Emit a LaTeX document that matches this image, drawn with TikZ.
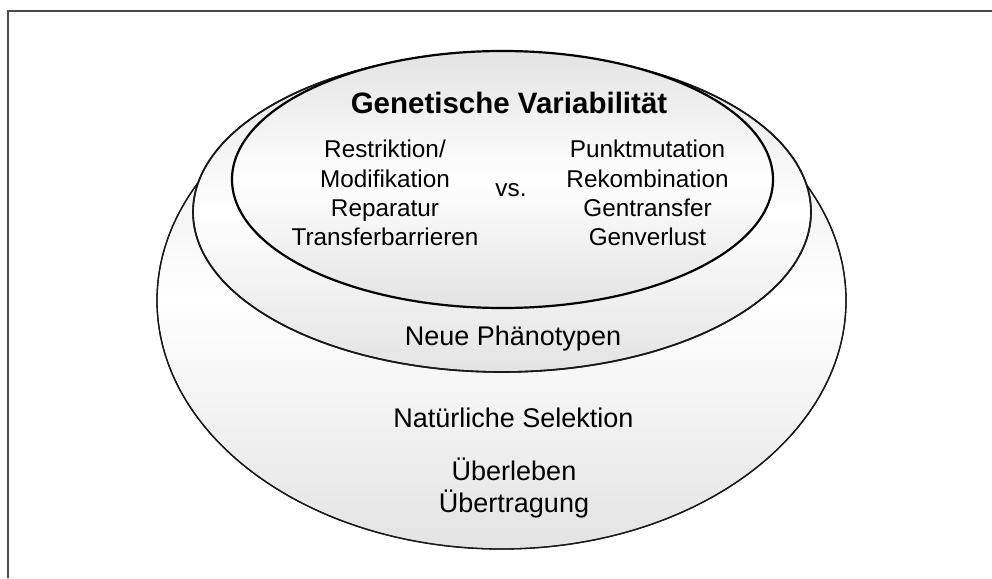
\documentclass[tikz,border=0pt]{standalone}
\usepackage{fontspec}
\setmainfont{Liberation Sans}
\begin{document}
\begin{tikzpicture}[x=1pt,y=-1pt,
  ring/.style={top color=gray!22,bottom color=gray!22,middle color=white,draw=black!90},
  head/.style={font=\fontsize{29.5}{33}\selectfont\bfseries,inner sep=0pt},
  col/.style={font=\fontsize{24.3}{29.3}\selectfont,align=center,inner sep=0pt},
  low/.style={font=\fontsize{27}{31.5}\selectfont,align=center,inner sep=0pt}]
\useasboundingbox (0,0) rectangle (992,578);
\draw[line width=2pt,draw=black!70] (8,578) -- (8,11) -- (992,11);
% outer
\shade[ring,line width=1.3pt] (501.5,300.5) ellipse [x radius=344.5,y radius=248.5];
\draw[line width=1.3pt,black!90] (501.5,300.5) ellipse [x radius=344.5,y radius=248.5];
% middle
\shade[ring,line width=1.6pt] (502,212) ellipse [x radius=309,y radius=160];
\draw[line width=1.6pt,black!90] (502,212) ellipse [x radius=309,y radius=160];
% inner
\shade[ring] (502.5,179.5) ellipse [x radius=270.5,y radius=128.5];
\draw[line width=2.2pt,black] (502.5,179.5) ellipse [x radius=270.5,y radius=128.5];
\node[head] (gv) at (509,103) {Genetische Variabilität};
\node[col] (left) at (385,193) {Restriktion/\\Modifikation\\Reparatur\\Transferbarrieren};
\node[col] (vs) at (511,190) {vs.};
\node[col] (right) at (647.5,193) {Punktmutation\\Rekombination\\Gentransfer\\Genverlust};
\node[low] (np) at (513,339) {Neue Phänotypen};
\node[low] (ns) at (513.5,418) {Natürliche Selektion};
\node[low] (ue) at (514,488) {Überleben\\Übertragung};
\end{tikzpicture}
\end{document}
